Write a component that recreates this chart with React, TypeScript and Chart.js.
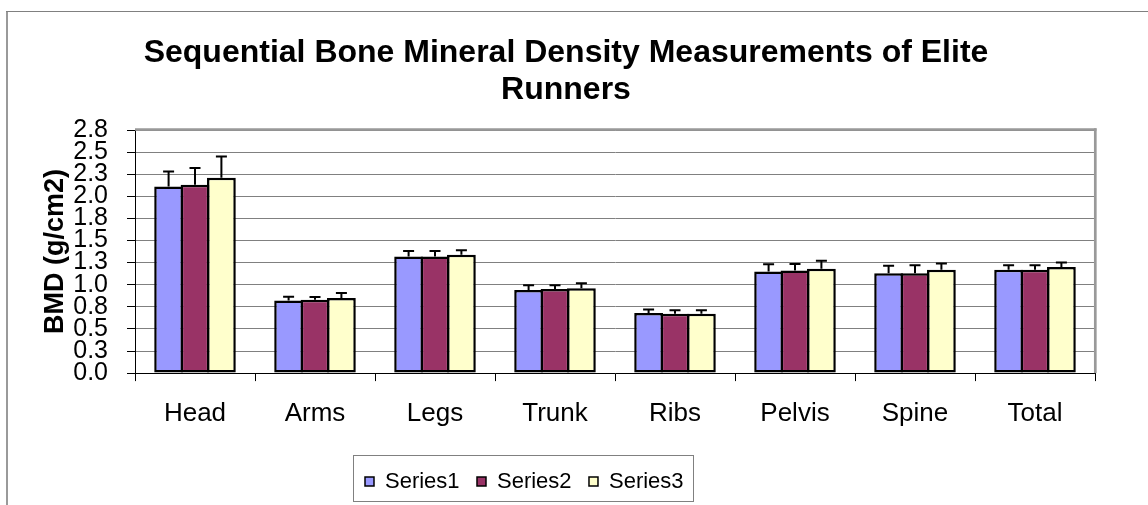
import React, { useEffect, useRef } from 'react';
import { Chart, registerables } from 'chart.js';

Chart.register(...registerables);

const categories = ['Head', 'Arms', 'Legs', 'Trunk', 'Ribs', 'Pelvis', 'Spine', 'Total'];
const seriesNames = ['Series1', 'Series2', 'Series3'];
const series1 = [2.11, 0.82, 1.32, 0.94, 0.68, 1.15, 1.13, 1.17];
const series2 = [2.13, 0.83, 1.32, 0.95, 0.67, 1.16, 1.13, 1.17];
const series3 = [2.21, 0.85, 1.34, 0.96, 0.67, 1.18, 1.17, 1.2];
const series1Err = [0.17, 0.045, 0.06, 0.055, 0.04, 0.08, 0.085, 0.05];
const series2Err = [0.19, 0.03, 0.06, 0.045, 0.04, 0.075, 0.09, 0.05];
const series3Err = [0.24, 0.055, 0.05, 0.055, 0.04, 0.09, 0.07, 0.05];
const yTickLabels = ['0.0', '0.3', '0.5', '0.8', '1.0', '1.3', '1.5', '1.8', '2.0', '2.3', '2.5', '2.8'];
const yStep = 0.25;
const yMax = 2.75;
const titleLines = ['Sequential Bone Mineral Density Measurements of Elite', 'Runners'];
const yAxisTitle = 'BMD (g/cm2)';

const seriesColors = ['#9999FF', '#993366', '#FFFFCC'];
const FONT = '"Liberation Sans", Arial, Helvetica, sans-serif';
const errSeries = [series1Err, series2Err, series3Err];

const framePlugin = {
  id: 'frame',
  beforeDraw(chart: any) {
    const ctx = chart.ctx;
    ctx.save();
    ctx.fillStyle = '#ffffff';
    ctx.fillRect(0, 0, chart.width, chart.height);
    ctx.fillStyle = '#9a9a9a';
    ctx.fillRect(6, 11, 2, chart.height - 11);
    ctx.fillStyle = '#808080';
    ctx.fillRect(6, 11, chart.width - 6, 1);
    ctx.restore();
  },
  afterLayout(chart: any) {
    const l = chart.legend;
    if (!l || !l.lineWidths) return;
    const pad = l.options.labels.padding;
    const start = (l.left + pad + l.right - l.lineWidths[0]) / 2;
    const dx = 365 - start;
    l.left += dx;
    l.right += dx;
  },
  afterDraw(chart: any) {
    const { ctx, chartArea: a } = chart;
    ctx.save();
    ctx.strokeStyle = '#999999';
    ctx.lineWidth = 2.3;
    ctx.beginPath();
    ctx.moveTo(a.left, a.top - 0.5);
    ctx.lineTo(a.right + 1.5, a.top - 0.5);
    ctx.stroke();
    ctx.lineWidth = 2.7;
    ctx.beginPath();
    ctx.moveTo(a.right + 0.3, a.top - 1.7);
    ctx.lineTo(a.right + 0.3, a.bottom);
    ctx.stroke();
    // legend frame
    const l = chart.legend;
    if (l && l.lineWidths) {
      const pad = l.options.labels.padding;
      const start = 365;
      const right = start + l.lineWidths[0] - pad + 9.5;
      ctx.strokeStyle = '#808080';
      ctx.lineWidth = 1;
      ctx.strokeRect(353.5, 455.5, Math.round(right - 353), 46);
    }
    ctx.restore();
  },
};

const errorBarPlugin = {
  id: 'errorBars',
  afterDatasetsDraw(chart: any) {
    const ctx = chart.ctx;
    const ys = chart.scales.y;
    ctx.save();
    ctx.strokeStyle = '#000000';
    ctx.lineWidth = 2;
    chart.data.datasets.forEach((ds: any, di: number) => {
      const meta = chart.getDatasetMeta(di);
      meta.data.forEach((bar: any, i: number) => {
        const v = ds.data[i];
        const e = errSeries[di][i];
        const x = bar.x;
        const y0 = ys.getPixelForValue(v);
        const y1 = ys.getPixelForValue(v + e);
        ctx.beginPath();
        ctx.moveTo(x, y0);
        ctx.lineTo(x, y1);
        ctx.moveTo(x - 5.5, y1);
        ctx.lineTo(x + 5.5, y1);
        ctx.stroke();
      });
    });
    ctx.restore();
  },
};

export default function App() {
  const ref = useRef<HTMLCanvasElement | null>(null);

  useEffect(() => {
    if (!ref.current) return;
    const seriesData = [series1, series2, series3];
    const chart = new Chart(ref.current, {
      type: 'bar',
      data: {
        labels: categories,
        datasets: seriesData.map((d, i) => ({
          label: seriesNames[i],
          data: d,
          backgroundColor: seriesColors[i],
          borderColor: '#000000',
          borderWidth: 2.5,
          borderSkipped: false,
          barPercentage: 1.09,
          categoryPercentage: 0.66,
        })),
      },
      options: {
        animation: false,
        responsive: false,
        layout: { padding: { left: 0, right: 16, top: 0, bottom: 2.5 } },
        plugins: {
          title: {
            display: true,
            text: titleLines,
            color: '#000000',
            font: { family: FONT, size: 32, weight: 'bold', lineHeight: 1.15 },
            padding: { top: 35, bottom: 21.4 },
          },
          legend: {
            position: 'bottom',
            labels: {
              color: '#000000',
              font: { family: FONT, size: 22 },
              boxWidth: 9,
              boxHeight: 9,
              padding: 17.4,
              generateLabels: (c: any) =>
                (Chart.defaults.plugins.legend.labels.generateLabels as any)(c).map((it: any) => ({
                  ...it,
                  lineWidth: 1.5,
                })),
            },
          },
          tooltip: { enabled: false },
        },
        scales: {
          x: {
            grid: {
              display: true,
              drawOnChartArea: false,
              drawTicks: true,
              tickLength: 8,
              tickColor: '#000000',
              offset: true,
            },
            border: { color: '#000000', width: 1 },
            ticks: {
              color: '#000000',
              font: { family: FONT, size: 26 },
              padding: 17,
              maxRotation: 0,
              autoSkip: false,
            },
            afterFit: (s: any) => {
              s.height = 80;
            },
          },
          y: {
            min: 0,
            max: yMax,
            ticks: {
              stepSize: yStep,
              autoSkip: false,
              color: '#000000',
              font: { family: FONT, size: 25 },
              padding: 19,
              callback: (v: any) => yTickLabels[Math.round(Number(v) / yStep)],
            },
            grid: { color: '#808080', tickColor: '#000000', tickLength: 8, lineWidth: 1 },
            border: { color: '#000000', width: 1 },
            title: {
              display: true,
              text: yAxisTitle,
              color: '#000000',
              font: { family: FONT, size: 27, weight: 'bold', lineHeight: 1.2 },
              padding: { top: 39, bottom: 0 },
            },
            afterFit: (s: any) => {
              s.width = 135;
            },
          },
          yR: {
            position: 'right',
            display: true,
            grid: { display: false },
            border: { display: false },
            ticks: { display: false },
            afterFit: (s: any) => {
              s.width = 37;
            },
          },
        },
      } as any,
      plugins: [framePlugin, errorBarPlugin],
    });
    return () => chart.destroy();
  }, []);

  return (
    <div style={{ position: 'fixed', left: 0, top: 0, width: 1148, height: 505, background: '#fff' }}>
      <canvas ref={ref} width={1148} height={505} style={{ display: 'block' }} />
    </div>
  );
}
